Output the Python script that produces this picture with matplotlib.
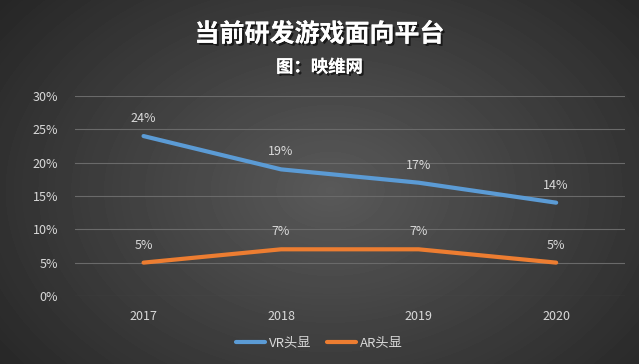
import numpy as np
import matplotlib
matplotlib.use("Agg")
import matplotlib.pyplot as plt
import matplotlib.patheffects as pe
from matplotlib.ticker import PercentFormatter

plt.rcParams['font.family'] = ['Noto Sans CJK SC', 'DejaVu Sans']

# Data
years = ['2017', '2018', '2019', '2020']
vr = [24, 19, 17, 14]
ar = [5, 7, 7, 5]
yticks = [0, 5, 10, 15, 20, 25, 30]

fig = plt.figure(figsize=(6.39, 3.64), dpi=100)

# radial gradient background
bg = fig.add_axes([0, 0, 1, 1], zorder=-10)
yy, xx = np.mgrid[0:364, 0:639]
r = np.sqrt(((xx - 330) / 420.0) ** 2 + ((yy - 190) / 300.0) ** 2)
val = np.clip(0.35 - 0.2 * r, 0.15, 0.35)
bg.imshow(val, cmap='gray', vmin=0, vmax=1, aspect='auto', extent=[0, 1, 0, 1])
bg.axis('off')

ax = fig.add_axes([0.117, 0.187, 0.861, 0.549])
ax.patch.set_alpha(0)
x = np.arange(len(years))
ax.plot(x, vr, color='#5b9bd5', lw=3, solid_capstyle='round', solid_joinstyle='round', label='VR头显')
ax.plot(x, ar, color='#ed7d31', lw=3, solid_capstyle='round', solid_joinstyle='round', label='AR头显')

for xi, v in zip(x, vr):
    ax.annotate(f'{v}%', (xi, v), xytext=(0, 8), textcoords='offset points',
                ha='center', va='bottom', color='#d9d9d9', fontsize=9)
for xi, v in zip(x, ar):
    ax.annotate(f'{v}%', (xi, v), xytext=(0, 8), textcoords='offset points',
                ha='center', va='bottom', color='#d9d9d9', fontsize=9)

ax.set_xlim(-0.5, 3.5)
ax.set_ylim(0, 30)
ax.set_yticks(yticks)
ax.yaxis.set_major_formatter(PercentFormatter(decimals=0))
ax.set_xticks(x)
ax.set_xticklabels(years)
ax.tick_params(colors='#d9d9d9', labelsize=9, length=0)
ax.tick_params(axis='x', pad=10)
ax.tick_params(axis='y', pad=12)
ax.grid(axis='y', color='#6a6a6a', lw=0.8)
ax.set_axisbelow(True)
for s in ax.spines.values():
    s.set_visible(False)

shadow = [pe.withSimplePatchShadow(offset=(1.5, -1.5), shadow_rgbFace='black', alpha=0.6), pe.Normal()]
fig.text(0.5, 0.905, '当前研发游戏面向平台', ha='center', va='center', color='white',
         fontsize=18, fontweight='bold', path_effects=shadow)
fig.text(0.5, 0.815, '图：映维网', ha='center', va='center', color='white',
         fontsize=12.5, fontweight='bold', path_effects=shadow)

leg = fig.legend(loc='center', bbox_to_anchor=(0.5, 0.057), ncol=2, frameon=False,
                 fontsize=9.5, handlelength=2.2, columnspacing=1.2, handletextpad=0.3)
for t in leg.get_texts():
    t.set_color('#d9d9d9')

fig.savefig('out.png', dpi=100)
